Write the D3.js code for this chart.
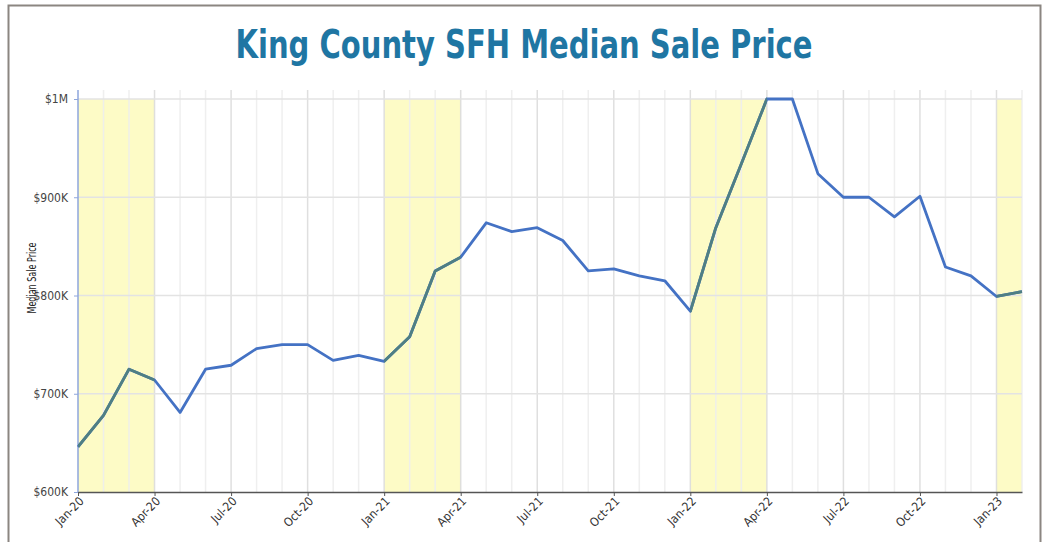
<!DOCTYPE html>
<html>
<head>
<meta charset="utf-8">
<script src="https://cdn.jsdelivr.net/npm/d3@7"></script>
<style>
  body { margin: 0; background: #fff; }
  svg { display: block; }
</style>
</head>
<body>
<svg id="chart" width="1044" height="542"></svg>
<script>
// monthly medians, Jan-20 .. Feb-23 (in $K)
const months = ["Jan-20","Feb-20","Mar-20","Apr-20","May-20","Jun-20","Jul-20","Aug-20","Sep-20","Oct-20","Nov-20","Dec-20",
  "Jan-21","Feb-21","Mar-21","Apr-21","May-21","Jun-21","Jul-21","Aug-21","Sep-21","Oct-21","Nov-21","Dec-21",
  "Jan-22","Feb-22","Mar-22","Apr-22","May-22","Jun-22","Jul-22","Aug-22","Sep-22","Oct-22","Nov-22","Dec-22",
  "Jan-23","Feb-23"];
const prices = [646, 678, 725, 714, 681, 725, 729, 746, 750, 750, 734, 739,
  733, 758, 825, 839, 874, 865, 869, 856, 825, 827, 820, 815,
  784, 869, 934, 1000, 1000, 924, 900, 900, 880, 901, 829, 820,
  799, 804];
const yTicks = [600, 700, 800, 900, 1000];
const yTickLabels = ["$600K", "$700K", "$800K", "$900K", "$1M"];
const xTickLabels = ["Jan-20","Apr-20","Jul-20","Oct-20","Jan-21","Apr-21","Jul-21","Oct-21","Jan-22","Apr-22","Jul-22","Oct-22","Jan-23"];
// shaded spring periods [from, to]
const bands = [["Jan-20","Apr-20"], ["Jan-21","Apr-21"], ["Jan-22","Apr-22"], ["Jan-23","Feb-23"]];

const svg = d3.select("#chart");
const plotLeft = 78, plotRight = 1022, plotTop = 99, plotBottom = 492, gridTop = 90;
const narrow = "'DejaVu Sans Condensed', 'Liberation Sans Narrow', sans-serif";

const x = d3.scalePoint().domain(months).range([plotLeft, plotRight]);
const y = d3.scaleLinear().domain([600, 1000]).range([plotBottom, plotTop]);

// frame
svg.append("path")
  .attr("d", "M8.5,542 V5.5 H1040.5 V542")
  .attr("fill", "none").attr("stroke", "#8b8681").attr("stroke-width", 2);

// title
svg.append("text")
  .attr("x", 524).attr("y", 58)
  .attr("text-anchor", "middle")
  .attr("font-family", narrow)
  .attr("font-weight", "bold")
  .attr("font-size", 39)
  .attr("textLength", 577).attr("lengthAdjust", "spacingAndGlyphs")
  .attr("fill", "#1f76a3")
  .text("King County SFH Median Sale Price");

// yellow bands
svg.append("g").selectAll("rect")
  .data(bands).join("rect")
  .attr("x", d => x(d[0]))
  .attr("width", d => x(d[1]) - x(d[0]))
  .attr("y", plotTop).attr("height", plotBottom - plotTop)
  .attr("fill", "#fdfbc6");

// vertical gridlines, monthly light, quarterly darker
svg.append("g").selectAll("line")
  .data(months.slice(1)).join("line")
  .attr("x1", d => x(d)).attr("x2", d => x(d))
  .attr("y1", gridTop).attr("y2", plotBottom)
  .attr("stroke", d => xTickLabels.includes(d) ? "#dcdcdc" : "#ededed")
  .attr("stroke-opacity", 0.9)
  .attr("stroke-width", 1.5);

// horizontal gridlines
svg.append("g").selectAll("line")
  .data(yTicks.slice(1)).join("line")
  .attr("x1", plotLeft).attr("x2", plotRight)
  .attr("y1", d => y(d)).attr("y2", d => y(d))
  .attr("stroke", "#e3e3e3").attr("stroke-width", 1.5);

// y axis
const yAxis = svg.append("g")
  .attr("transform", `translate(${plotLeft},0)`)
  .call(d3.axisLeft(y).tickValues(yTicks).tickSize(4).tickPadding(6)
    .tickFormat((d, i) => yTickLabels[i]));
yAxis.select(".domain").attr("d", `M0,${gridTop}V${plotBottom}`).attr("stroke", "#8ea6dc").attr("stroke-width", 1.5);
yAxis.selectAll(".tick line").attr("stroke", "#8ea6dc");
yAxis.selectAll("text")
  .attr("font-family", narrow)
  .attr("font-size", 12).attr("fill", "#444");

svg.append("text")
  .attr("transform", "translate(36,278) rotate(-90)")
  .attr("text-anchor", "middle")
  .attr("font-family", narrow)
  .attr("font-size", 12).attr("fill", "#222")
  .attr("textLength", 71).attr("lengthAdjust", "spacingAndGlyphs")
  .text("Median Sale Price");

// line
const line = d3.line().x((d, i) => x(months[i])).y(d => y(d));
svg.append("path")
  .datum(prices)
  .attr("d", line)
  .attr("fill", "none").attr("stroke", "#4472c4")
  .attr("stroke-width", 2.8).attr("stroke-linejoin", "round");

// inside the yellow bands the line reads greener
const clip = svg.append("clipPath").attr("id", "bandclip");
clip.selectAll("rect").data(bands).join("rect")
  .attr("x", d => x(d[0])).attr("width", d => x(d[1]) - x(d[0]))
  .attr("y", 0).attr("height", 542);
svg.append("path")
  .datum(prices)
  .attr("d", line)
  .attr("clip-path", "url(#bandclip)")
  .attr("fill", "none").attr("stroke", "#4f7f83")
  .attr("stroke-width", 2.8).attr("stroke-linejoin", "round");

// x axis
const xAxis = svg.append("g")
  .attr("transform", `translate(0,${plotBottom})`)
  .call(d3.axisBottom(x).tickValues(xTickLabels).tickSize(4).tickSizeOuter(0));
xAxis.select(".domain").attr("stroke", "#555").attr("stroke-width", 1.5);
xAxis.selectAll(".tick line").attr("stroke", "#555");
xAxis.selectAll("text")
  .attr("font-family", narrow)
  .attr("font-size", 12).attr("fill", "#333")
  .attr("text-anchor", "end")
  .attr("dy", null).attr("y", 0)
  .attr("transform", "translate(6,10) rotate(-45)");
</script>
</body>
</html>
